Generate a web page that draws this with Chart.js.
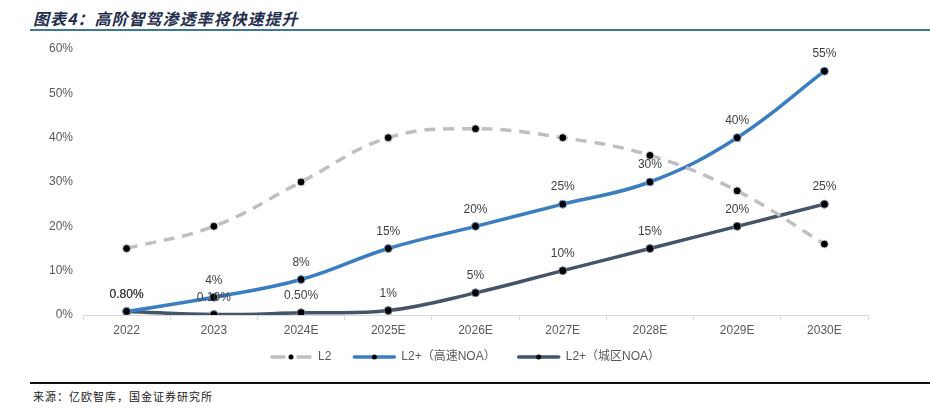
<!DOCTYPE html>
<html>
<head>
<meta charset="utf-8">
<script src="https://cdn.jsdelivr.net/npm/chart.js@4.4.1/dist/chart.umd.min.js"></script>
<style>
  html, body { margin: 0; padding: 0; background: #fff; }
  body { width: 930px; height: 408px; position: relative; overflow: hidden; }
  #title {
    position: absolute; left: 33px; top: 6px;
    font: italic bold 16px "Noto Sans CJK SC", sans-serif;
    color: #1f2d4d; letter-spacing: 1px;
  }
  #titleLine { position: absolute; left: 30px; top: 29px; width: 900px; height: 2px; background: #3f7896; }
  #wrap { position: absolute; left: 0; top: 36px; width: 900px; height: 340px; }
  #srcLine { position: absolute; left: 30px; top: 382px; width: 900px; height: 1.5px; background: #111; }
  #source {
    position: absolute; left: 33px; top: 388px;
    font: 11px "Noto Sans CJK SC", serif; color: #222; letter-spacing: 1px;
  }
</style>
</head>
<body>
<div id="title">图表4：高阶智驾渗透率将快速提升</div>
<div id="titleLine"></div>
<div id="wrap"><canvas id="myChart" width="900" height="340"></canvas></div>
<div id="srcLine"></div>
<div id="source">来源：亿欧智库，国金证券研究所</div>
<script>
// data (percent)
const categories = ['2022', '2023', '2024E', '2025E', '2026E', '2027E', '2028E', '2029E', '2030E'];
const l2 = [15, 20, 30, 40, 42, 40, 36, 28, 16];
const noaHighway = [0.8, 4, 8, 15, 20, 25, 30, 40, 55];
const noaCity = [0.8, 0.1, 0.5, 1, 5, 10, 15, 20, 25];
const highwayLabels = ['0.80%', '4%', '8%', '15%', '20%', '25%', '30%', '40%', '55%'];
const cityLabels = ['0.80%', '0.10%', '0.50%', '1%', '5%', '10%', '15%', '20%', '25%'];
const yTicks = [0, 10, 20, 30, 40, 50, 60];

const GRAY = '#bfbfbf', BLUE = '#3a7dc1', SLATE = '#44546a';

// value labels above points
const pointLabels = {
  id: 'pointLabels',
  afterDatasetsDraw(chart) {
    const ctx = chart.ctx;
    ctx.save();
    ctx.font = '12px "Liberation Sans", Arial, sans-serif';
    ctx.fillStyle = '#404040';
    ctx.textAlign = 'center';
    ctx.textBaseline = 'middle';
    chart.data.datasets.forEach((ds, i) => {
      if (!ds.valueLabels) return;
      chart.getDatasetMeta(i).data.forEach((pt, j) => {
        ctx.fillText(ds.valueLabels[j], pt.x, pt.y - 17);
      });
    });
    ctx.restore();
  }
};

// legend under the axis: line sample with a dot in the middle
const lineLegend = {
  id: 'lineLegend',
  afterDraw(chart) {
    const ctx = chart.ctx;
    const y = 321;
    let x = 270;
    ctx.save();
    ctx.font = '12px "Liberation Sans", "Noto Sans CJK SC", sans-serif';
    ctx.textBaseline = 'middle';
    chart.data.datasets.forEach(ds => {
      const w = 42;
      ctx.strokeStyle = ds.borderColor;
      ctx.lineWidth = 3.5;
      ctx.lineCap = 'round';
      if (ds.borderDash) {
        ctx.beginPath(); ctx.moveTo(x + 2, y); ctx.lineTo(x + 14, y); ctx.stroke();
        ctx.beginPath(); ctx.moveTo(x + 28, y); ctx.lineTo(x + 40, y); ctx.stroke();
      } else {
        ctx.beginPath(); ctx.moveTo(x + 1, y); ctx.lineTo(x + w - 1, y); ctx.stroke();
      }
      ctx.fillStyle = '#000';
      ctx.beginPath(); ctx.arc(x + w / 2, y, 2.5, 0, Math.PI * 2); ctx.fill();
      ctx.fillStyle = '#595959';
      ctx.fillText(ds.label, x + w + 6, y);
      x += w + 6 + ctx.measureText(ds.label).width + 22;
    });
    ctx.restore();
  }
};

const ctx = document.getElementById('myChart').getContext('2d');
new Chart(ctx, {
  type: 'line',
  data: {
    labels: categories,
    datasets: [
      {
        label: 'L2',
        data: l2,
        borderColor: GRAY,
        borderDash: [11, 8],
        borderWidth: 3.5,
        tension: 0.4,
        pointRadius: 4,
        pointBackgroundColor: '#000',
        pointBorderColor: '#d9d9d9',
        pointBorderWidth: 1
      },
      {
        label: 'L2+（高速NOA）',
        data: noaHighway,
        valueLabels: highwayLabels,
        borderColor: BLUE,
        borderWidth: 3.5,
        tension: 0.4,
        pointRadius: 4,
        pointBackgroundColor: '#000',
        pointBorderColor: '#6fa3d8',
        pointBorderWidth: 1
      },
      {
        label: 'L2+（城区NOA）',
        data: noaCity,
        valueLabels: cityLabels,
        borderColor: SLATE,
        borderWidth: 3.5,
        tension: 0.4,
        pointRadius: 4,
        pointBackgroundColor: '#000',
        pointBorderColor: '#7a8699',
        pointBorderWidth: 1
      }
    ]
  },
  options: {
    responsive: false,
    animation: false,
    layout: { autoPadding: false, padding: { top: 13, right: 32, bottom: 31, left: 0 } },
    plugins: {
      legend: { display: false },
      tooltip: { enabled: false }
    },
    scales: {
      x: {
        offset: true,
        afterFit(scale) { scale.height = 30; },
        grid: { display: true, offset: true, drawOnChartArea: false, drawTicks: true, tickLength: 5, color: '#d9d9d9' },
        border: { color: '#d9d9d9', width: 1 },
        ticks: { color: '#595959', padding: 3, font: { size: 12, family: '"Liberation Sans", Arial, sans-serif' } }
      },
      y: {
        min: yTicks[0],
        max: yTicks[yTicks.length - 1],
        afterFit(scale) { scale.width = 83; },
        afterBuildTicks(scale) { scale.ticks = yTicks.map(v => ({ value: v })); },
        // invisible tick marks give the label gap without padding the top
        grid: { display: true, drawOnChartArea: false, drawTicks: true, tickLength: 10, tickColor: 'rgba(0,0,0,0)' },
        border: { display: false },
        ticks: {
          color: '#595959', padding: 0,
          font: { size: 12, family: '"Liberation Sans", Arial, sans-serif' },
          callback: v => v + '%'
        }
      }
    }
  },
  plugins: [pointLabels, lineLegend]
});
</script>
</body>
</html>
